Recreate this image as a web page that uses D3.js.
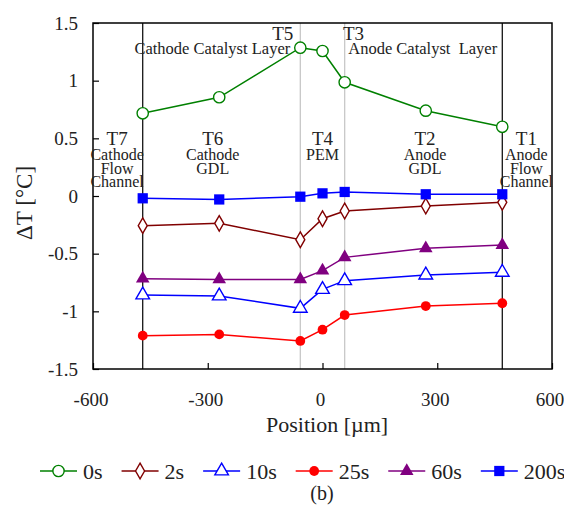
<!DOCTYPE html>
<html>
<head>
<meta charset="utf-8">
<script src="https://cdn.jsdelivr.net/npm/d3@7"></script>
<style>
  body { margin: 0; background: #fff; }
  text { font-family: "Liberation Serif", "DejaVu Serif", serif; }
</style>
</head>
<body>
<div id="chart"></div>
<script>
// sensor positions [um] and temperature rise [C] at each time
var positions = [-470, -270, -58, 0, 58, 270, 470];
var series = ["0s", "2s", "10s", "25s", "60s", "200s"];
var t0s   = [0.717, 0.856, 1.286, 1.257, 0.986, 0.740, 0.600];
var t2s   = [-0.257, -0.237, -0.379, -0.197, -0.130, -0.087, -0.055];
var t10s  = [-0.858, -0.867, -0.974, -0.810, -0.734, -0.685, -0.662];
var t25s  = [-1.211, -1.200, -1.257, -1.159, -1.032, -0.954, -0.930];
var t60s  = [-0.717, -0.723, -0.723, -0.647, -0.532, -0.454, -0.425];
var t200s = [-0.020, -0.030, -0.006, 0.023, 0.035, 0.015, 0.015];
var xTicks = [-600, -300, 0, 300, 600];
var yTicks = [-1.5, -1, -0.5, 0, 0.5, 1, 1.5];
var layerLines = [-470, 470];
var catalystLines = [-58, 58];

var width = 564, height = 505;
var margin = {top: 23, right: 12, bottom: 136, left: 93};
var serif = "'Liberation Serif', 'DejaVu Serif', serif";

var svg = d3.select("#chart").append("svg")
  .attr("width", width)
  .attr("height", height)
  .attr("font-family", serif);

var x = d3.scaleLinear().domain([-600, 600]).range([margin.left, width - margin.right]);
var y = d3.scaleLinear().domain([-1.5, 1.5]).range([height - margin.bottom, margin.top]);

var colors = ["#008000", "#800000", "#0000ff", "#ff0000", "#800080", "#0000ff"];
var shapes = [d3.symbolCircle, d3.symbolDiamond, d3.symbolTriangle, d3.symbolCircle, d3.symbolTriangle, d3.symbolSquare];
var sizes  = [100, 70, 80, 75, 80, 105];
var filled = [false, false, false, true, true, true];
var values = [t0s, t2s, t10s, t25s, t60s, t200s];

// layer boundaries
svg.selectAll("line.cat")
  .data(catalystLines).enter().append("line")
  .attr("x1", d => x(d)).attr("x2", d => x(d))
  .attr("y1", y(1.5)).attr("y2", y(-1.5))
  .attr("stroke", "#c8c8c8").attr("stroke-width", 1.3);

svg.selectAll("line.layer")
  .data(layerLines).enter().append("line")
  .attr("x1", d => x(d)).attr("x2", d => x(d))
  .attr("y1", y(1.5)).attr("y2", y(-1.5))
  .attr("stroke", "#000").attr("stroke-width", 1.2);

// axes, ticks pointing inwards
svg.append("g")
  .attr("transform", `translate(0,${y(-1.5)})`)
  .call(d3.axisBottom(x).tickValues(xTicks).tickSize(-6).tickPadding(24).tickFormat(d => String(d)))
  .call(g => g.select(".domain").remove())
  .call(g => g.selectAll(".tick text").attr("dx", -2.5));

svg.append("g")
  .attr("transform", `translate(${x(-600)},0)`)
  .call(d3.axisLeft(y).tickValues(yTicks).tickSize(-6).tickPadding(15).tickFormat(d => String(d)))
  .call(g => g.select(".domain").remove());

svg.selectAll(".tick line").attr("stroke-width", 1.2);
svg.selectAll(".tick text")
  .attr("font-family", serif)
  .style("font-size", "19px")
  .attr("fill", "#222");

svg.append("rect")
  .attr("x", x(-600)).attr("y", y(1.5))
  .attr("width", x(600) - x(-600)).attr("height", y(-1.5) - y(1.5))
  .attr("fill", "none").attr("stroke", "#000").attr("stroke-width", 1.5);

// zone annotations
var zoneLabels = [
  {x: -537, lines: ["T7", "Cathode", "Flow", "Channel"]},
  {x: -287, lines: ["T6", "Cathode", "GDL"]},
  {x: 0,    lines: ["T4", "PEM"]},
  {x: 268,  lines: ["T2", "Anode", "GDL"]},
  {x: 533,  lines: ["T1", "Anode", "Flow", "Channel"]}
];
zoneLabels.forEach(z => {
  z.lines.forEach((s, i) => {
    svg.append("text")
      .attr("x", x(z.x))
      .attr("y", y(0.442) + (i == 0 ? 0 : 1.5 + i * 13.5))
      .attr("text-anchor", "middle")
      .attr("fill", "#222")
      .style("font-size", i == 0 ? "19px" : "16px")
      .text(s);
  });
});

var topLabels = [
  {x: -104, v: 1.353, s: "T5", f: 19},
  {x: 81,   v: 1.353, s: "T3", f: 19},
  {x: -288, v: 1.231, s: "Cathode Catalyst Layer", f: 16.5},
  {x: 262,  v: 1.231, s: "Anode Catalyst  Layer", f: 16.5}
];
svg.selectAll("text.top")
  .data(topLabels).enter().append("text")
  .attr("x", d => x(d.x)).attr("y", d => y(d.v))
  .attr("text-anchor", "middle")
  .attr("fill", "#222")
  .style("font-size", d => d.f + "px")
  .style("white-space", "pre")
  .text(d => d.s);

// series
var line = d3.line().x((d, i) => x(positions[i])).y(d => y(d));

values.forEach((vals, k) => {
  svg.append("path")
    .datum(vals)
    .attr("d", line)
    .attr("fill", "none")
    .attr("stroke", colors[k])
    .attr("stroke-width", 1.5);

  svg.selectAll("path.m" + k)
    .data(vals).enter().append("path")
    .attr("transform", (d, i) => `translate(${x(positions[i])},${y(d)})`)
    .attr("d", d3.symbol().type(shapes[k]).size(sizes[k]))
    .attr("fill", filled[k] ? colors[k] : "#fff")
    .attr("stroke", colors[k])
    .attr("stroke-width", filled[k] ? 0 : 1.4);
});

// axis titles
svg.append("text")
  .attr("transform", `translate(32,${y(-0.06)}) rotate(-90)`)
  .attr("text-anchor", "middle")
  .style("font-size", "23px").attr("fill", "#222")
  .text("ΔT [°C]");

svg.append("text")
  .attr("x", x(12)).attr("y", 432)
  .attr("text-anchor", "middle")
  .style("font-size", "22px").attr("fill", "#222")
  .text("Position [µm]");

// legend
var lx = 40, ly = 471;
series.forEach((s, k) => {
  var g = svg.append("g").attr("transform", `translate(${lx},${ly})`);
  g.append("line").attr("x1", 0).attr("x2", 37)
    .attr("stroke", colors[k]).attr("stroke-width", 1.5);
  g.append("path")
    .attr("transform", "translate(18.5,0)")
    .attr("d", d3.symbol().type(shapes[k]).size(sizes[k]))
    .attr("fill", filled[k] ? colors[k] : "#fff")
    .attr("stroke", colors[k])
    .attr("stroke-width", filled[k] ? 0 : 1.4);
  var t = g.append("text").attr("x", 43).attr("y", 7.5)
    .style("font-size", "22px").attr("fill", "#222")
    .text(s);
  lx += 43 + t.node().getComputedTextLength() + 19;
});

svg.append("text")
  .attr("x", 322).attr("y", 500)
  .attr("text-anchor", "middle")
  .style("font-size", "20px").attr("fill", "#222")
  .text("(b)");
</script>
</body>
</html>
